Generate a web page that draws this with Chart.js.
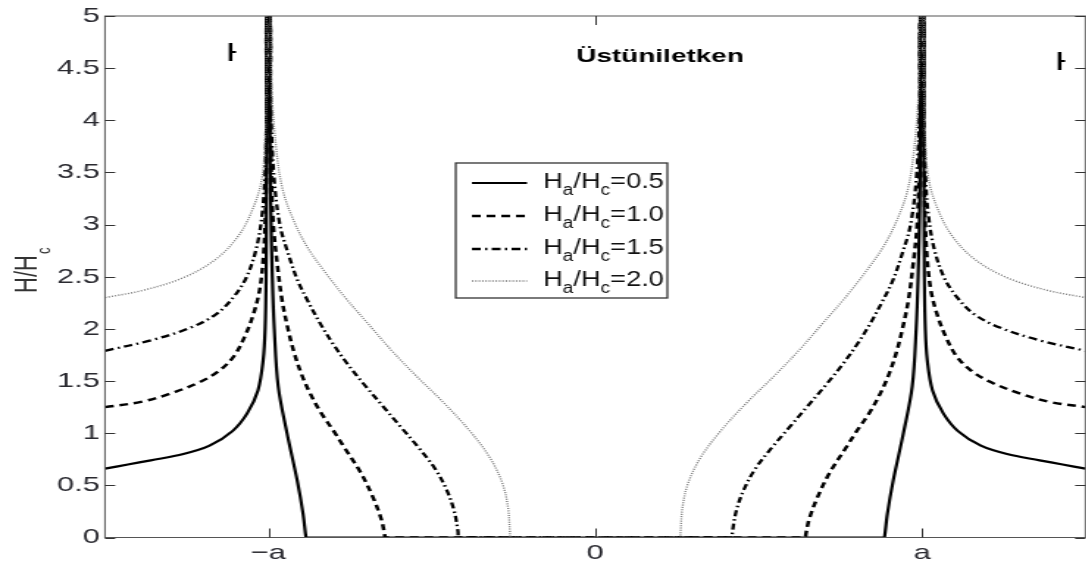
<!DOCTYPE html>
<html>
<head>
<meta charset="utf-8">
<script src="https://cdn.jsdelivr.net/npm/chart.js@4.4.1/dist/chart.umd.min.js"></script>
<style>
  html, body { margin: 0; padding: 0; background: #fff; overflow: hidden; }
  /* the figure is drawn narrow and stretched sideways */
  #wrap { width: 740px; height: 569px; transform: scaleX(1.47); transform-origin: 0 0; }
</style>
</head>
<body>
<div id="wrap"><canvas id="c" width="740" height="569"></canvas></div>
<script>
// H_a/H_c ratios shown in the legend
const ratios = ['0.5', '1.0', '1.5', '2.0'];

const xTicks = [-1, 0, 1];
const xTickLabels = ['\u2212a', '0', 'a'];

// Ha/Hc = 0.5
const solidOuterL = [[-1.5,0.66],[-1.43,0.70],[-1.36,0.74],[-1.26,0.80],[-1.18,0.88],[-1.11,1.02],[-1.065,1.19],[-1.032,1.41],[-1.016,1.70],[-1.01,2.0],[-1.007,2.5],[-1.006,3.2],[-1.005,4.0],[-1.005,5]];
const solidInnerL = [[-0.995,5],[-0.995,4.0],[-0.993,3.2],[-0.988,2.5],[-0.982,2.0],[-0.97,1.45],[-0.943,1.0],[-0.912,0.55],[-0.894,0.23],[-0.885,0],[-0.883,0]];
const solidInnerR = [[0.883,0],[0.885,0],[0.894,0.23],[0.912,0.55],[0.943,1.0],[0.97,1.45],[0.982,2.0],[0.988,2.5],[0.993,3.2],[0.995,4.0],[0.995,5]];
const solidOuterR = [[1.005,5],[1.005,4.0],[1.006,3.2],[1.007,2.5],[1.01,2.0],[1.016,1.70],[1.032,1.41],[1.065,1.19],[1.11,1.02],[1.18,0.88],[1.26,0.80],[1.36,0.74],[1.43,0.70],[1.5,0.66]];

// Ha/Hc = 1.0
const dashedOuterL = [[-1.5,1.25],[-1.39,1.30],[-1.30,1.38],[-1.21,1.49],[-1.15,1.60],[-1.105,1.74],[-1.072,1.93],[-1.047,2.13],[-1.027,2.37],[-1.015,2.7],[-1.009,3.1],[-1.006,3.6],[-1.005,4.3],[-1.005,5]];
const dashedInnerL = [[-0.995,5],[-0.995,4.3],[-0.992,3.6],[-0.985,3.0],[-0.972,2.6],[-0.958,2.27],[-0.94,2.0],[-0.922,1.78],[-0.898,1.56],[-0.872,1.38],[-0.84,1.2],[-0.80,1.02],[-0.765,0.85],[-0.719,0.63],[-0.682,0.4],[-0.655,0.18],[-0.645,0.04],[-0.643,0],[-0.641,0]];
const dashedInnerR = [[0.641,0],[0.643,0],[0.645,0.04],[0.655,0.18],[0.682,0.4],[0.719,0.63],[0.765,0.85],[0.80,1.02],[0.84,1.2],[0.872,1.38],[0.898,1.56],[0.922,1.78],[0.94,2.0],[0.958,2.27],[0.972,2.6],[0.985,3.0],[0.992,3.6],[0.995,4.3],[0.995,5]];
const dashedOuterR = [[1.005,5],[1.005,4.3],[1.006,3.6],[1.009,3.1],[1.015,2.7],[1.027,2.37],[1.047,2.13],[1.072,1.93],[1.105,1.74],[1.15,1.60],[1.21,1.49],[1.30,1.38],[1.39,1.30],[1.5,1.25]];

// Ha/Hc = 1.5
const dashDotOuterL = [[-1.5,1.79],[-1.36,1.89],[-1.24,2.01],[-1.16,2.14],[-1.108,2.3],[-1.068,2.49],[-1.037,2.77],[-1.019,3.1],[-1.01,3.5],[-1.006,4.0],[-1.005,4.5],[-1.005,5]];
const dashDotInnerL = [[-0.995,5],[-0.993,4.2],[-0.984,3.5],[-0.965,3.0],[-0.937,2.7],[-0.91,2.46],[-0.878,2.26],[-0.843,2.06],[-0.803,1.86],[-0.757,1.66],[-0.705,1.46],[-0.65,1.26],[-0.595,1.06],[-0.54,0.86],[-0.49,0.66],[-0.455,0.46],[-0.432,0.26],[-0.42,0.06],[-0.419,0],[-0.417,0]];
const dashDotInnerR = [[0.417,0],[0.419,0],[0.42,0.06],[0.432,0.26],[0.455,0.46],[0.49,0.66],[0.54,0.86],[0.595,1.06],[0.65,1.26],[0.705,1.46],[0.757,1.66],[0.803,1.86],[0.843,2.06],[0.878,2.26],[0.91,2.46],[0.937,2.7],[0.965,3.0],[0.984,3.5],[0.993,4.2],[0.995,5]];
const dashDotOuterR = [[1.005,5],[1.005,4.5],[1.006,4.0],[1.01,3.5],[1.019,3.1],[1.037,2.77],[1.068,2.49],[1.108,2.3],[1.16,2.14],[1.24,2.01],[1.36,1.89],[1.5,1.79]];

// Ha/Hc = 2.0
const dottedOuterL = [[-1.5,2.3],[-1.383,2.37],[-1.261,2.49],[-1.16,2.67],[-1.09,2.9],[-1.048,3.15],[-1.021,3.42],[-1.01,3.8],[-1.006,4.3],[-1.005,5]];
const dottedInnerL = [[-0.995,5],[-0.99,4.3],[-0.975,3.7],[-0.955,3.32],[-0.92,3.02],[-0.88,2.78],[-0.828,2.55],[-0.765,2.3],[-0.695,2.05],[-0.625,1.8],[-0.548,1.55],[-0.466,1.3],[-0.386,1.03],[-0.323,0.77],[-0.284,0.52],[-0.267,0.29],[-0.261,0.05],[-0.26,0],[-0.258,0]];
const dottedInnerR = [[0.258,0],[0.26,0],[0.261,0.05],[0.267,0.29],[0.284,0.52],[0.323,0.77],[0.386,1.03],[0.466,1.3],[0.548,1.55],[0.625,1.8],[0.695,2.05],[0.765,2.3],[0.828,2.55],[0.88,2.78],[0.92,3.02],[0.955,3.32],[0.975,3.7],[0.99,4.3],[0.995,5]];
const dottedOuterR = [[1.005,5],[1.006,4.3],[1.01,3.8],[1.021,3.42],[1.048,3.15],[1.09,2.9],[1.16,2.67],[1.261,2.49],[1.383,2.37],[1.5,2.3]];

const FONT = "'Liberation Sans', Arial, Helvetica, sans-serif";

const styles = [
  { color: '#000', width: 2.2, dash: [] },
  { color: '#000', width: 2.5, dash: [6, 4] },
  { color: '#000', width: 2.3, dash: [6, 3, 1.5, 3] },
  { color: '#777', width: 1.4, dash: [1, 1.3] }
];

const curves = [
  [...solidOuterL, ...solidInnerL, ...solidInnerR, ...solidOuterR],
  [...dashedOuterL, ...dashedInnerL, ...dashedInnerR, ...dashedOuterR],
  [...dashDotOuterL, ...dashDotInnerL, ...dashDotInnerR, ...dashDotOuterR],
  [...dottedOuterL, ...dottedInnerL, ...dottedInnerR, ...dottedOuterR]
];

// dotted first, solid last so it sits on top
const datasets = curves.map((pts, i) => ({
  label: 'Ha/Hc=' + ratios[i],
  data: pts,
  showLine: true,
  pointRadius: 0,
  borderColor: styles[i].color,
  borderWidth: styles[i].width,
  borderDash: styles[i].dash,
  tension: 0.35
})).reverse();

// H_a/H_c style text with two subscripts
function subText(ctx, x, y, main, size) {
  const small = Math.round(size * 0.72);
  let cx = x;
  ctx.font = size + 'px ' + FONT;
  ctx.fillText('H', cx, y); cx += ctx.measureText('H').width;
  ctx.font = small + 'px ' + FONT;
  ctx.fillText('a', cx, y + size * 0.32); cx += ctx.measureText('a').width;
  ctx.font = size + 'px ' + FONT;
  ctx.fillText('/H', cx, y); cx += ctx.measureText('/H').width;
  ctx.font = small + 'px ' + FONT;
  ctx.fillText('c', cx, y + size * 0.32); cx += ctx.measureText('c').width;
  ctx.font = size + 'px ' + FONT;
  ctx.fillText('=' + main, cx, y);
}

const decor = {
  id: 'decor',
  afterDraw(chart) {
    const { ctx, chartArea: a, scales: { x, y } } = chart;
    ctx.save();

    // box and inward ticks
    ctx.strokeStyle = '#555';
    ctx.lineWidth = 1;
    ctx.strokeRect(a.left, a.top, a.right - a.left, a.bottom - a.top);
    ctx.strokeStyle = '#333';
    ctx.beginPath();
    y.ticks.forEach(t => {
      const py = Math.round(y.getPixelForValue(t.value)) + 0.5;
      ctx.moveTo(a.left, py); ctx.lineTo(a.left + 7, py);
      ctx.moveTo(a.right, py); ctx.lineTo(a.right - 7, py);
    });
    xTicks.forEach(v => {
      const px = Math.round(x.getPixelForValue(v)) + 0.5;
      ctx.moveTo(px, a.bottom); ctx.lineTo(px, a.bottom - 9);
      ctx.moveTo(px, a.top); ctx.lineTo(px, a.top + 9);
    });
    ctx.stroke();

    // y axis title, rotated
    ctx.fillStyle = '#333';
    ctx.save();
    ctx.translate(25, 293);
    ctx.rotate(-Math.PI / 2);
    ctx.textBaseline = 'alphabetic';
    ctx.font = '22px ' + FONT;
    ctx.fillText('H/H', 0, 0);
    const w = ctx.measureText('H/H').width;
    ctx.font = '13px ' + FONT;
    ctx.fillText('c', w + 1, 9);
    ctx.restore();

    // region label
    ctx.fillStyle = '#000';
    ctx.textAlign = 'center';
    ctx.textBaseline = 'alphabetic';
    ctx.font = 'bold 19px ' + FONT;
    ctx.fillText('Üstüniletken', 449, 62);

    // partly hidden H marks
    ctx.textAlign = 'left';
    ctx.font = '26px ' + FONT;
    [[155, 61, 5.6], [719, 70, 5.6]].forEach(([hx, hy, cw]) => {
      ctx.save();
      ctx.beginPath();
      ctx.rect(hx - 2, hy - 25, cw + 2, 30);
      ctx.clip();
      ctx.fillText('H', hx - 1.5, hy);
      ctx.restore();
    });

    // legend
    const lx = 310, ly = 163, lw = 144, lh = 135;
    ctx.fillStyle = '#fff';
    ctx.fillRect(lx, ly, lw, lh);
    ctx.strokeStyle = '#333';
    ctx.lineWidth = 1.3;
    ctx.strokeRect(lx, ly, lw, lh);
    const rows = [183, 216, 249, 281];
    ratios.forEach((r, i) => {
      const s = styles[i];
      ctx.save();
      ctx.strokeStyle = s.color;
      ctx.lineWidth = s.width;
      ctx.setLineDash(s.dash);
      ctx.beginPath();
      ctx.moveTo(321, rows[i]);
      ctx.lineTo(358.5, rows[i]);
      ctx.stroke();
      ctx.restore();
      // slightly taller glyphs for the legend entries
      ctx.save();
      ctx.fillStyle = '#111';
      ctx.textBaseline = 'alphabetic';
      ctx.translate(369.5, rows[i] + 5);
      ctx.scale(1, 1.2);
      subText(ctx, 0, 0, r, 18.5);
      ctx.restore();
    });

    ctx.restore();
  }
};

new Chart(document.getElementById('c'), {
  type: 'scatter',
  data: { datasets },
  options: {
    responsive: false,
    animation: false,
    devicePixelRatio: 1,
    layout: { padding: { top: 14.5, right: 1.6, left: 0, bottom: 0 } },
    plugins: { legend: { display: false }, tooltip: { enabled: false } },
    scales: {
      x: {
        type: 'linear',
        min: -1.5,
        max: 1.5,
        grid: { display: false, drawTicks: false },
        border: { display: false },
        afterBuildTicks: s => { s.ticks = xTicks.map(v => ({ value: v })); },
        afterFit: s => { s.height = 31.5; },
        ticks: {
          autoSkip: false,
          maxRotation: 0,
          padding: 3,
          color: '#2a2a30',
          font: { family: FONT, size: 21 },
          callback: v => xTickLabels[xTicks.indexOf(v)]
        }
      },
      y: {
        min: 0,
        max: 5,
        grid: { display: false, drawTicks: false },
        border: { display: false },
        afterFit: s => { s.width = 71.4; },
        ticks: {
          stepSize: 0.5,
          padding: 3.4,
          color: '#2a2a30',
          font: { family: FONT, size: 21 },
          callback: v => String(Number(v.toFixed(1)))
        }
      }
    }
  },
  plugins: [decor]
});
</script>
</body>
</html>
